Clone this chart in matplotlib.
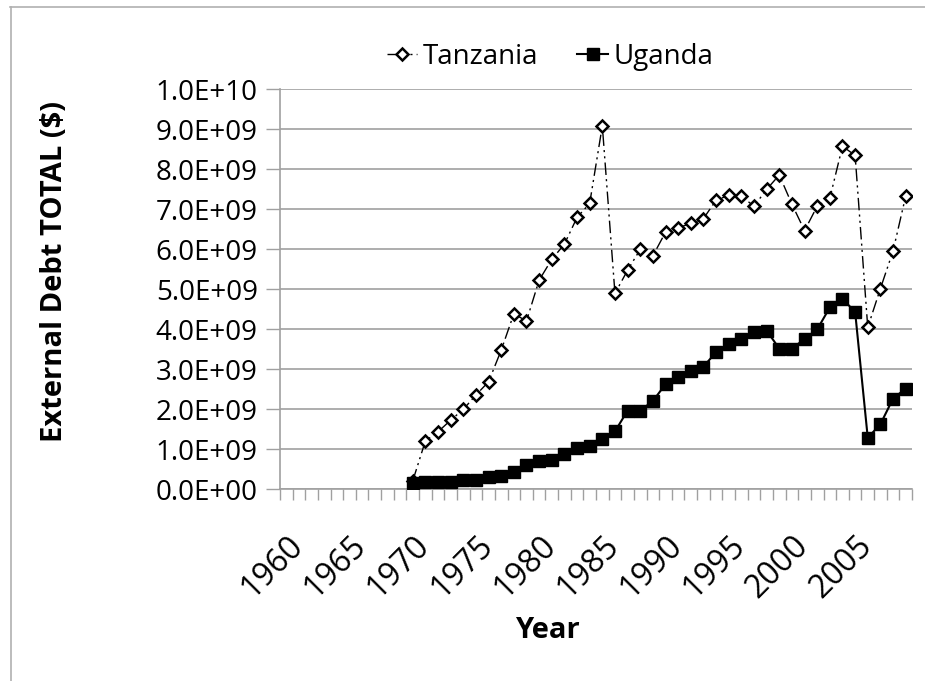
import matplotlib
matplotlib.use("Agg")
import matplotlib.pyplot as plt
from matplotlib.lines import Line2D
from matplotlib.ticker import FuncFormatter, FixedLocator
import numpy as np

plt.rcParams['font.family'] = ['Open Sans', 'DejaVu Sans']

# years on the category axis, data starts in 1970
years = list(range(1960, 2010))
data_years = list(range(1970, 2010))

# external debt, billions of dollars
tanzania = [0.20, 1.20, 1.43, 1.72, 1.99, 2.35, 2.68, 3.47, 4.38, 4.20,
            5.22, 5.74, 6.12, 6.79, 7.14, 9.08, 4.89, 5.47, 5.99, 5.83,
            6.42, 6.53, 6.64, 6.76, 7.22, 7.34, 7.32, 7.07, 7.49, 7.85,
            7.12, 6.46, 7.07, 7.27, 8.57, 8.34, 4.04, 5.01, 5.95, 7.32]
uganda = [0.16, 0.18, 0.18, 0.18, 0.22, 0.22, 0.29, 0.32, 0.42, 0.59,
          0.71, 0.72, 0.88, 1.03, 1.08, 1.25, 1.44, 1.96, 1.96, 2.20,
          2.62, 2.81, 2.96, 3.06, 3.42, 3.62, 3.74, 3.92, 3.96, 3.51,
          3.51, 3.75, 3.99, 4.54, 4.75, 4.43, 1.28, 1.62, 2.26, 2.51]

W, H = 925, 681
fig = plt.figure(figsize=(W / 100, H / 100), dpi=100)
ax = fig.add_axes([280 / W, 1 - 489 / H, (912 - 280) / W, (489 - 89) / H])

xpos = [years.index(y) for y in data_years]
tz = np.array(tanzania) * 1e9
ug = np.array(uganda) * 1e9

tz_style = dict(color='black', lw=1.0, ls=(0, (9, 3, 1.5, 3, 1.5, 3)),
                marker='D', ms=6.5, mfc='white', mec='black', mew=1.8)
ug_style = dict(color='black', lw=1.5, ls='-',
                marker='s', ms=8, mfc='black', mec='black')
ax.plot(xpos, tz, zorder=3, **tz_style)
ax.plot(xpos, ug, zorder=4, **ug_style)

ax.set_xlim(-0.5, len(years) - 0.5)
ax.set_ylim(0, 1e10)

grey = '#a0a0a0'
ax.set_yticks(np.arange(0, 1.01e10, 1e9))
ax.yaxis.set_major_formatter(FuncFormatter(lambda v, p: f"{v:.1E}"))
ax.grid(axis='y', color=grey, lw=1.2)
ax.set_axisbelow(True)

# category ticks between years, labels every 5 years
ax.xaxis.set_minor_locator(FixedLocator(np.arange(-0.5, len(years), 1)))
label_idx = [i for i, y in enumerate(years) if y % 5 == 0]
ax.set_xticks(label_idx)
ax.set_xticklabels([str(years[i]) for i in label_idx], rotation=45,
                   ha='right', va='top', rotation_mode='anchor')
ax.tick_params(axis='x', which='major', length=0, pad=29, labelsize=23)
ax.tick_params(axis='x', which='minor', length=8, color=grey, width=1)
ax.tick_params(axis='y', length=10, color=grey, width=1, labelsize=20, pad=6)

for s in ['top', 'right']:
    ax.spines[s].set_visible(False)
for s in ['left', 'bottom']:
    ax.spines[s].set_color(grey)
    ax.spines[s].set_linewidth(1.2)

fig.text(55 / W, 1 - 272 / H, 'External Debt TOTAL ($)', rotation=90,
         ha='center', va='center', fontsize=21, fontweight='bold')
fig.text(547 / W, 1 - 630 / H, 'Year', ha='center', va='center',
         fontsize=21, fontweight='bold')

handles = [Line2D([], [], **tz_style), Line2D([], [], **ug_style)]
fig.legend(handles, ['Tanzania', 'Uganda'], loc='center',
           bbox_to_anchor=(550 / W, 1 - 57 / H), ncol=2, frameon=False,
           fontsize=20, handlelength=1.1, handletextpad=0.2,
           columnspacing=1.4)

# chart area outline
fig.add_artist(Line2D([10 / W, 1], [1 - 6.5 / H, 1 - 6.5 / H],
                      color='#b0b0b0', lw=1.2))
fig.add_artist(Line2D([10.5 / W, 10.5 / W], [0, 1 - 6.5 / H],
                      color='#b0b0b0', lw=1.2))

fig.savefig('out.png', dpi=100)
